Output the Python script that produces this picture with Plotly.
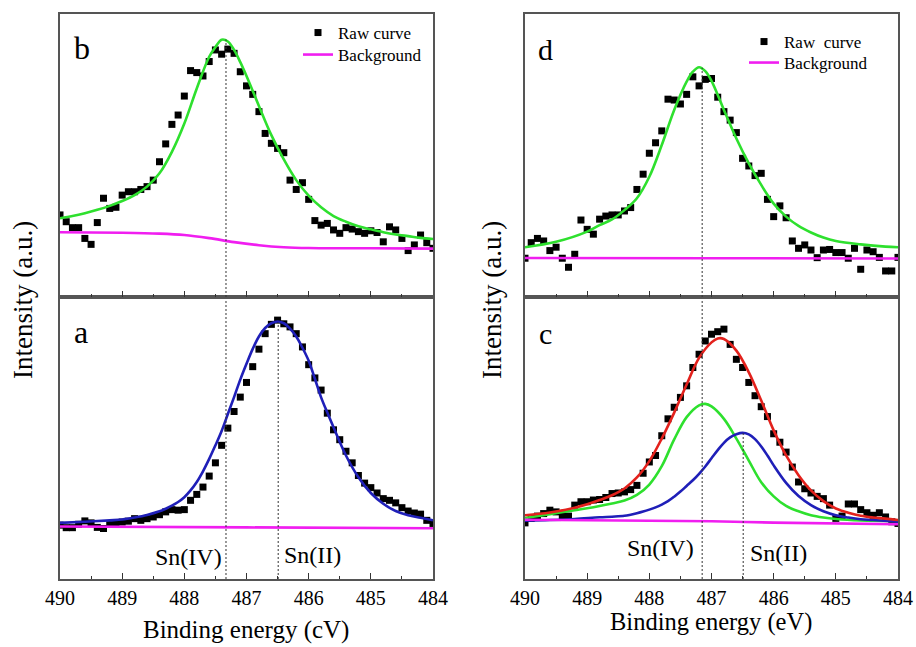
import plotly.graph_objects as go

FONT = "Liberation Serif, Times New Roman, serif"

# ---------------- data ----------------
energy = [490.0, 489.9, 489.8, 489.7, 489.6, 489.5, 489.4, 489.3, 489.2, 489.1,
          489.0, 488.9, 488.8, 488.7, 488.6, 488.5, 488.4, 488.3, 488.2, 488.1,
          488.0, 487.9, 487.8, 487.7, 487.6, 487.5, 487.4, 487.3, 487.2, 487.1,
          487.0, 486.9, 486.8, 486.7, 486.6, 486.5, 486.4, 486.3, 486.2, 486.1,
          486.0, 485.9, 485.8, 485.7, 485.6, 485.5, 485.4, 485.3, 485.2, 485.1,
          485.0, 484.9, 484.8, 484.7, 484.6, 484.5, 484.4, 484.3, 484.2, 484.1,
          484.0]

# panel b (top left)
b_raw = [29.0, 26.6, 24.5, 24.5, 20.7, 18.6, 26.3, 34.9, 31.3, 31.7,
         36.0, 37.2, 37.2, 38.0, 39.0, 41.3, 47.8, 54.1, 61.0, 64.3,
         71.0, 80.0, 79.3, 78.1, 83.2, 87.3, 85.8, 87.6, 86.1, 79.6,
         74.6, 71.6, 65.5, 57.8, 54.3, 52.5, 51.0, 41.3, 38.0, 40.4,
         34.5, 27.0, 25.4, 26.0, 23.7, 22.5, 24.5, 24.0, 23.1, 22.5,
         23.4, 22.8, 19.5, 24.8, 23.7, 20.7, 16.4, 18.4, 21.9, 19.2,
         17.2]
b_fit_E = [490.0, 489.8, 489.6, 489.4, 489.2, 489.0, 488.8, 488.6, 488.4, 488.2,
           488.0, 487.8, 487.6, 487.5, 487.4, 487.3, 487.2, 487.1, 487.0, 486.8,
           486.6, 486.4, 486.2, 486.0, 485.8, 485.6, 485.4, 485.2, 485.0, 484.8,
           484.6, 484.4, 484.2, 484.0]
b_fit_I = [27.8, 28.6, 29.6, 30.8, 32.2, 33.9, 36.0, 39.0, 43.7, 51.3,
           61.3, 73.7, 84.9, 88.3, 90.9, 90.3, 87.3, 83.0, 78.1, 67.5,
           57.2, 48.6, 41.3, 35.8, 31.7, 28.6, 26.6, 25.0, 23.9, 22.9,
           22.1, 21.5, 20.9, 20.5]
b_bg_E = [490.0, 489.0, 488.4, 488.0, 487.6, 487.2, 486.8, 486.4, 486.0, 485.0, 484.0]
b_bg_I = [22.9, 22.7, 22.4, 21.9, 20.8, 19.4, 18.3, 17.6, 17.3, 17.2, 17.1]

# panel a (bottom left)
a_raw = [19.1, 18.2, 18.2, 19.4, 20.6, 19.9, 18.3, 17.9, 19.4, 19.9,
         20.2, 20.5, 21.4, 20.8, 21.4, 22.0, 22.8, 23.8, 24.6, 24.4,
         24.6, 27.9, 30.0, 32.6, 36.5, 41.2, 47.4, 53.5, 59.4, 64.5,
         69.7, 75.3, 81.5, 87.0, 90.3, 91.8, 90.5, 89.4, 87.0, 82.3,
         76.0, 71.3, 67.0, 58.8, 52.9, 49.4, 45.3, 41.2, 36.7, 34.0,
         32.4, 30.5, 28.5, 27.9, 27.0, 25.3, 24.1, 23.4, 23.0, 20.8,
         19.7]
a_fit_E = [490.0, 489.6, 489.2, 489.0, 488.8, 488.6, 488.4, 488.3, 488.2, 488.1,
           488.0, 487.9, 487.8, 487.7, 487.6, 487.5, 487.4, 487.3, 487.2, 487.1,
           487.0, 486.9, 486.8, 486.7, 486.6, 486.5, 486.4, 486.3, 486.2, 486.1,
           486.0, 485.9, 485.8, 485.7, 485.6, 485.4, 485.2, 485.0, 484.8, 484.6,
           484.4, 484.2, 484.0]
a_fit_I = [19.9, 20.3, 20.8, 21.1, 21.8, 22.7, 24.0, 24.9, 26.0, 27.3,
           29.0, 31.4, 34.4, 38.2, 42.6, 47.4, 52.5, 58.5, 64.5, 70.7,
           76.3, 81.6, 86.0, 89.0, 90.7, 91.3, 90.7, 88.8, 86.0, 82.0,
           77.4, 71.0, 64.4, 59.0, 53.8, 43.8, 36.1, 30.5, 26.7, 24.1,
           22.6, 21.7, 20.8]
a_bg_E = [490.0, 487.0, 484.0]
a_bg_I = [18.6, 18.3, 18.0]

# panel d (top right)
d_raw = [13.7, 19.2, 20.7, 19.8, 16.4, 17.6, 13.7, 10.5, 15.1, 27.2,
         23.9, 22.2, 27.5, 28.6, 29.0, 29.0, 30.4, 31.6, 38.0, 43.4,
         50.8, 54.5, 58.7, 69.9, 69.6, 68.2, 71.6, 77.8, 74.6, 76.9,
         77.2, 70.6, 65.5, 62.5, 58.1, 49.0, 46.3, 42.9, 43.7, 34.5,
         28.4, 32.2, 28.0, 19.8, 17.2, 18.4, 16.6, 13.9, 16.6, 16.8,
         15.7, 15.7, 13.7, 17.2, 9.8, 16.6, 16.0, 14.0, 9.2, 9.2,
         14.0]
d_fit_E = [490.0, 489.5, 489.0, 488.8, 488.6, 488.4, 488.2, 488.0, 487.8, 487.6,
           487.4, 487.3, 487.2, 487.1, 487.0, 486.8, 486.6, 486.4, 486.2, 486.0,
           485.8, 485.6, 485.4, 485.2, 485.0, 484.6, 484.2, 484.0]
d_fit_I = [17.6, 19.5, 23.1, 25.4, 27.4, 30.7, 34.9, 42.5, 53.7, 66.1,
           76.1, 79.6, 81.2, 79.8, 76.4, 66.1, 56.0, 47.2, 39.6, 33.0,
           28.4, 25.1, 22.8, 21.0, 19.8, 18.6, 17.8, 17.6]
d_bg_E = [490.0, 487.0, 484.0]
d_bg_I = [13.8, 13.7, 13.6]

# panel c (bottom right)
c_raw = [19.9, 21.5, 22.3, 23.2, 24.4, 23.8, 22.3, 22.3, 26.2, 27.4,
         27.4, 28.0, 28.2, 28.9, 30.3, 30.5, 30.9, 31.7, 33.2, 37.5,
         41.5, 43.8, 50.8, 56.8, 60.9, 64.4, 68.5, 75.0, 79.7, 84.4,
         86.8, 87.7, 88.6, 83.2, 77.9, 75.0, 69.7, 65.0, 61.1, 57.6,
         51.5, 48.5, 45.0, 39.7, 34.4, 32.0, 30.5, 29.3, 28.5, 26.2,
         21.5, 22.3, 26.6, 26.6, 24.6, 23.5, 22.6, 23.5, 22.0, 20.3,
         19.7]
c_sum_E = [490.0, 489.6, 489.2, 489.0, 488.8, 488.6, 488.4, 488.2, 488.0, 487.8,
           487.6, 487.4, 487.2, 487.0, 486.9, 486.8, 486.6, 486.4, 486.2, 486.0,
           485.8, 485.6, 485.4, 485.2, 485.0, 484.8, 484.6, 484.4, 484.2, 484.0]
c_sum_I = [22.6, 23.6, 25.3, 26.5, 28.0, 29.7, 32.1, 36.0, 41.8, 49.8,
           59.0, 69.0, 78.4, 83.9, 85.3, 85.1, 81.0, 73.3, 63.3, 52.7,
           43.8, 36.8, 31.4, 27.6, 25.0, 23.5, 22.4, 21.8, 21.4, 20.9]
c_sn4_E = [490.0, 489.6, 489.2, 489.0, 488.8, 488.6, 488.4, 488.2, 488.0, 487.8,
           487.6, 487.4, 487.2, 487.1, 487.0, 486.8, 486.6, 486.4, 486.2, 486.0,
           485.8, 485.6, 485.4, 485.2, 485.0, 484.6, 484.0]
c_sn4_I = [21.6, 23.0, 24.4, 25.1, 25.9, 26.8, 27.8, 29.8, 33.5, 40.0,
           49.5, 57.4, 61.6, 62.1, 61.2, 56.8, 49.8, 42.0, 34.3, 29.3,
           25.9, 24.0, 22.6, 21.8, 21.3, 20.8, 20.6]
c_sn2_E = [490.0, 489.6, 489.2, 488.8, 488.6, 488.4, 488.3, 488.2, 488.1, 488.0,
           487.9, 487.8, 487.7, 487.6, 487.5, 487.4, 487.3, 487.2, 487.1, 487.0,
           486.9, 486.8, 486.7, 486.6, 486.5, 486.4, 486.3, 486.2, 486.1, 486.0,
           485.8, 485.6, 485.4, 485.2, 485.0, 484.8, 484.6, 484.4, 484.0]
c_sn2_I = [20.7, 20.9, 21.3, 21.9, 22.1, 22.4, 22.8, 23.3, 23.9, 24.6,
           25.4, 26.4, 27.6, 29.2, 31.0, 33.0, 35.0, 37.3, 39.9, 42.8,
           45.7, 48.3, 50.2, 51.3, 51.8, 51.3, 49.6, 47.0, 43.8, 40.3,
           34.1, 29.4, 26.2, 24.0, 22.6, 21.8, 21.2, 20.9, 20.3]
c_bg_E = [490.0, 487.0, 486.0, 484.0]
c_bg_I = [21.0, 20.5, 20.0, 19.4]

# reference peak positions (eV) for the dotted guide lines
sn4_left, sn2_left = 487.33, 486.49
sn4_right, sn2_right = 487.15, 486.49
tick_vals = [490, 489, 488, 487, 486, 485, 484]
tick_text = [str(v) for v in tick_vals]

GREEN = "#2ee02e"
BLUE = "#1f1fb8"
RED = "#e3211c"
MAGENTA = "#f01ef0"
LW = 2.6

fig = go.Figure()


def raw(x, y, xa, ya, show=False, name="Raw curve", legend="legend"):
    fig.add_trace(go.Scatter(x=x, y=y, mode="markers", xaxis=xa, yaxis=ya,
                             marker=dict(symbol="square", size=7, color="black"),
                             name=name, showlegend=show, legend=legend))


def curve(x, y, xa, ya, color, show=False, name="", legend="legend"):
    fig.add_trace(go.Scatter(x=x, y=y, mode="lines", xaxis=xa, yaxis=ya,
                             line=dict(color=color, width=LW, shape="spline", smoothing=1.0),
                             name=name, showlegend=show, legend=legend))


def guide(xv, y0, y1, xa, ya):
    fig.add_trace(go.Scatter(x=[xv, xv], y=[y0, y1], mode="lines", xaxis=xa, yaxis=ya,
                             line=dict(color="#333333", width=1, dash="2px,2px"),
                             showlegend=False, hoverinfo="skip"))


# panel a: x / y
raw(energy, a_raw, "x", "y")
curve(a_fit_E, a_fit_I, "x", "y", BLUE)
curve(a_bg_E, a_bg_I, "x", "y", MAGENTA)
guide(sn4_left, 0, 100, "x", "y")
guide(sn2_left, 0, 91, "x", "y")

# panel b: x2 / y2
raw(energy, b_raw, "x2", "y2", show=True, name="Raw curve", legend="legend")
curve(b_fit_E, b_fit_I, "x2", "y2", GREEN)
curve(b_bg_E, b_bg_I, "x2", "y2", MAGENTA, show=True, name="Background", legend="legend3")
guide(sn4_left, 0, 91, "x2", "y2")

# panel c: x3 / y3
raw(energy, c_raw, "x3", "y3")
curve(c_sn4_E, c_sn4_I, "x3", "y3", GREEN)
curve(c_sn2_E, c_sn2_I, "x3", "y3", BLUE)
curve(c_sum_E, c_sum_I, "x3", "y3", RED)
curve(c_bg_E, c_bg_I, "x3", "y3", MAGENTA)
guide(sn4_right, 0, 100, "x3", "y3")
guide(sn2_right, 0, 51.7, "x3", "y3")

# panel d: x4 / y4
raw(energy, d_raw, "x4", "y4", show=True, name="Raw\u00a0\u00a0curve", legend="legend2")
curve(d_fit_E, d_fit_I, "x4", "y4", GREEN)
curve(d_bg_E, d_bg_I, "x4", "y4", MAGENTA, show=True, name="Background", legend="legend4")
guide(sn4_right, 0, 81, "x4", "y4")

W, H = 916, 647
left_dom = [60 / W, 433 / W]
right_dom = [525 / W, 898 / W]
bot_dom = [1 - 579 / H, 1 - 297 / H]
top_dom = [1 - 297 / H, 1 - 14 / H]

AX_LINE = "#555555"


def xax(domain, anchor, labels):
    return dict(domain=domain, anchor=anchor, range=[490, 484], autorange=False,
                automargin=False,
                tickmode="array", tickvals=tick_vals, ticktext=tick_text,
                ticks="inside", ticklen=6, tickwidth=1.3, tickcolor="#333333",
                minor=dict(dtick=0.5, tick0=484, ticks="inside", ticklen=3,
                           tickwidth=1.2, tickcolor="#333333", showgrid=False),
                showticklabels=labels, showgrid=False, zeroline=False,
                showline=True, mirror=True, linecolor=AX_LINE, linewidth=1.5,
                tickfont=dict(family=FONT, size=20, color="black"))


def yax(domain, anchor):
    return dict(domain=domain, anchor=anchor, range=[0, 100], autorange=False,
                automargin=False,
                showticklabels=False, ticks="", showgrid=False, zeroline=False,
                showline=True, mirror=True, linecolor=AX_LINE, linewidth=1.5)


annotations = []


def text(s, x, y, xref, yref, size, xanchor="center", yanchor="middle", angle=0):
    annotations.append(dict(text=s, x=x, y=y, xref=xref, yref=yref, showarrow=False,
                            xanchor=xanchor, yanchor=yanchor, textangle=angle,
                            font=dict(family=FONT, size=size, color="black")))


# panel letters
text("b", 0.06, 0.88, "x2 domain", "y2 domain", 32)
text("a", 0.055, 0.875, "x domain", "y domain", 32)
text("d", 0.055, 0.873, "x4 domain", "y4 domain", 30)
text("c", 0.055, 0.872, "x3 domain", "y3 domain", 30)

# Sn labels
text("Sn(IV)", 487.37, 7.8, "x", "y", 24, xanchor="right")
text("Sn(II)", 486.43, 8.5, "x", "y", 24, xanchor="left")
text("Sn(IV)", 487.25, 11.0, "x3", "y3", 24, xanchor="right")
text("Sn(II)", 486.42, 9.2, "x3", "y3", 24, xanchor="left")

# axis titles
text("Binding energy (cV)", 246 / W, 1 - 630 / H, "paper", "paper", 25)
text("Binding energy (eV)", 711 / W, 1 - 622 / H, "paper", "paper", 24.5)
text("Intensity (a.u.)", 23 / W, 1 - 300 / H, "paper", "paper", 27, angle=-90)
text("Intensity (a.u.)", 492 / W, 1 - 300 / H, "paper", "paper", 27, angle=-90)

LEG_FONT = dict(family=FONT, size=17, color="black")


def leg(px, py):
    return dict(x=px / W, y=1 - py / H, xanchor="left", yanchor="middle",
                bgcolor="rgba(0,0,0,0)", borderwidth=0, tracegroupgap=0,
                font=LEG_FONT)


fig.update_layout(
    template="none",
    width=W, height=H,
    margin=dict(l=0, r=0, t=0, b=0, pad=0),
    paper_bgcolor="white", plot_bgcolor="white",
    xaxis=xax(left_dom, "y", True),
    yaxis=yax(bot_dom, "x"),
    xaxis2=xax(left_dom, "y2", False),
    yaxis2=yax(top_dom, "x2"),
    xaxis3=xax(right_dom, "y3", True),
    yaxis3=yax(bot_dom, "x3"),
    xaxis4=xax(right_dom, "y4", False),
    yaxis4=yax(top_dom, "x4"),
    legend=leg(298, 33),
    legend3=leg(298, 55),
    legend2=leg(744, 42),
    legend4=leg(744, 63),
    annotations=annotations,
    showlegend=True,
    hovermode=False,
)

fig.write_html("out.html",
               config={"displayModeBar": False},
               post_script="document.body.style.margin='0';document.body.style.padding='0';")
